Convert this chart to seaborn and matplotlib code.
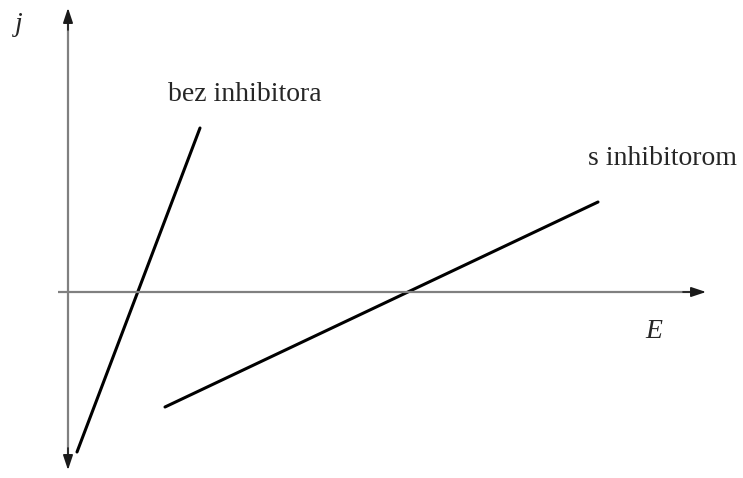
import numpy as np
import pandas as pd
import matplotlib
matplotlib.use("Agg")
import matplotlib.pyplot as plt
import seaborn as sns

# data (arbitrary units, origin at axis crossing)
bez_E = [9, 132]
bez_j = [-160, 164]
s_E = [97, 530]
s_j = [-115, 90]
labels = ["bez inhibitora", "s inhibitorom"]

df = pd.DataFrame({
    "E": bez_E + s_E,
    "j": bez_j + s_j,
    "serie": [labels[0]] * 2 + [labels[1]] * 2,
})

sns.set_style("white")
plt.rcParams['font.family'] = ['Liberation Serif', 'DejaVu Serif']

fig = plt.figure(figsize=(7.43, 4.78), dpi=100)
ax = fig.add_axes([0, 0, 1, 1])

sns.lineplot(data=df, x="E", y="j", units="serie", estimator=None,
             color="black", linewidth=2.2, ax=ax, sort=False)

# axes: gray lines, dark arrowheads
axis_col = "#808080"
ax.plot([-10, 630], [0, 0], color=axis_col, lw=1.6, solid_capstyle="butt")
ax.plot([0, 0], [-170, 276], color=axis_col, lw=1.6, solid_capstyle="butt")

head = dict(arrowstyle="-|>,head_length=0.9,head_width=0.3", color="#1a1a1a",
            lw=1.2, shrinkA=0, shrinkB=0)
ax.annotate("", xy=(638, 0), xytext=(615, 0), arrowprops=head)
ax.annotate("", xy=(0, 284), xytext=(0, 262), arrowprops=head)
ax.annotate("", xy=(0, -178), xytext=(0, -156), arrowprops=head)

ax.text(-49, 268, "j", fontsize=20, style="italic", ha="center", va="center")
ax.text(586, -40, "E", fontsize=20, style="italic", ha="center", va="center")
ax.text(177, 198, labels[0], fontsize=20, ha="center", va="center")
ax.text(595, 134, labels[1], fontsize=20, ha="center", va="center")

ax.set_xlim(-68, 675)
ax.set_ylim(-186, 292)
ax.axis("off")

fig.savefig("out.png", dpi=100)
plt.close(fig)
